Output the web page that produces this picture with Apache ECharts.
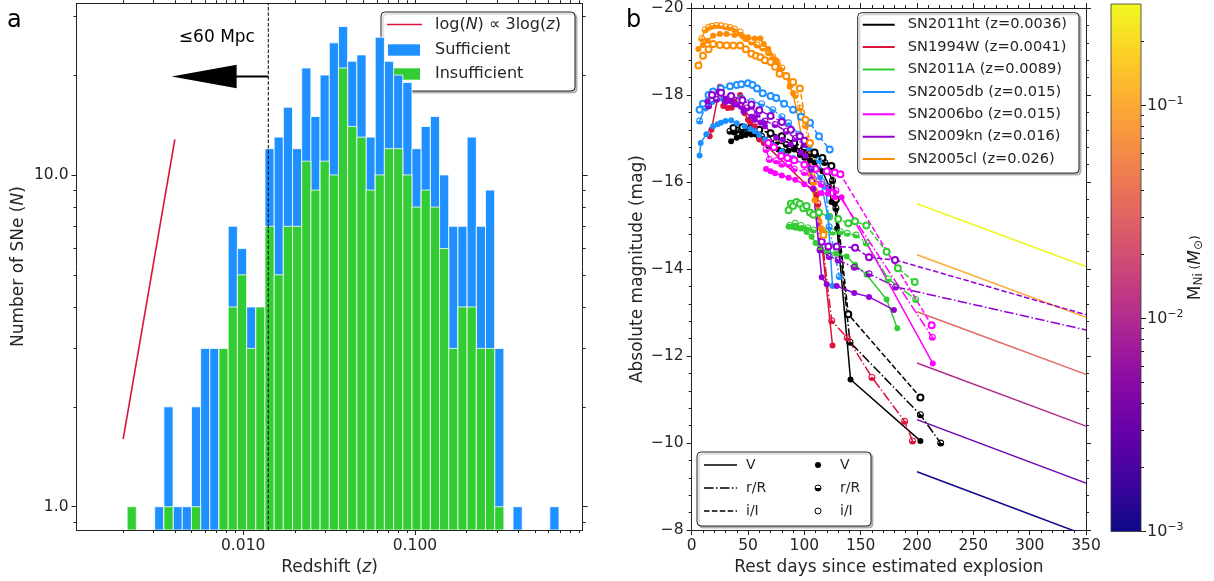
<!DOCTYPE html>
<html><head><meta charset="utf-8">
<script src="https://cdn.jsdelivr.net/npm/echarts@6/dist/echarts.min.js"></script>
<style>html,body{margin:0;padding:0;background:#fff}#c{width:1214px;height:581px}</style>
</head><body><div id="c"></div>
<script>
// ================= Panel a : redshift histogram =================
const binStartZ = 0.00211;      // left edge of first redshift bin
const binWidthDex = 0.0535;     // bin width in log10(z)
const countTotal = [1,0,0,1,2,1,1,2,3,3,3,7,6,4,4,12,13,16,12,21,15,20,25,28,22,23,13,26,22,20,19,12,14,15,10,7,7,13,7,9,3,0,1,0,0,0,1];
const countInsufficient = [1,0,0,0,1,0,0,1,0,0,3,4,5,3,4,7,5,7,7,11,9,11,10,21,14,13,9,10,12,12,10,8,9,8,6,3,4,4,3,3,1,0,0,0,0,0,0];
const slopeLineZ = [0.002, 0.004];
const slopeLineN = [1.6, 12.8];
const distLimitZ = 0.0140;        // 60 Mpc
const arrowTipZ = 0.00383, arrowN = 19.8;
const distLabelZ = 0.00703, distLabelN = 26.0;
const histZRange = [0.00107, 0.948];
const histNRange = [0.851, 32.9];
const histXTickLabels = ['0.010', '0.100'];
const histYTickLabels = ['1.0', '10.0'];

// ================= Panel b : light curves [day, mag] =================
const sn2011ht_V = [[35,-16.94],[40,-17.02],[44,-17.05],[48,-17.08],[53,-17.09],[60,-17.0],[68,-16.83],[72,-16.79],[77,-16.75],[81,-16.71],[86,-16.72],[91,-16.75],[96,-16.62],[100,-16.56],[105,-16.5],[109,-16.45],[116,-16.25],[122,-15.9],[124,-15.54],[127,-15.5],[129,-14.93],[141,-11.46],[203,-10.05]];
const sn2011ht_R = [[34,-17.17],[38,-17.15],[44,-17.18],[50,-17.15],[56,-17.12],[62,-17.05],[68,-16.97],[75,-16.92],[84,-16.86],[91,-16.82],[98,-16.72],[105,-16.65],[110,-16.62],[118,-16.45],[125,-16.03],[128,-15.4],[140.5,-12.32],[203,-10.65],[221,-10.0]];
const sn2011ht_I = [[37,-17.24],[45,-17.26],[52,-17.23],[60,-17.2],[70,-17.12],[80,-17.05],[91,-16.9],[100,-16.8],[109,-16.68],[116,-16.55],[124,-16.37],[128,-15.6],[139,-12.96],[203,-11.05]];

const sn1994w_V = [[16,-17.05],[17.5,-17.2],[25,-18.19],[28,-17.75],[32,-17.7],[35.5,-17.71],[38,-17.85],[43,-18.0],[47,-17.58],[50,-17.43],[52,-17.36],[56,-17.28],[60,-16.98],[64,-16.9],[111,-15.7],[125,-12.24]];
const sn1994w_R = [[112,-15.5],[124.3,-12.81],[138,-12.42],[160,-11.51],[189,-10.5],[196,-10.05]];

const sn2011a_V = [[86,-14.97],[89,-14.97],[92,-14.95],[96,-14.93],[99,-14.93],[102,-14.85],[106.5,-14.74],[110,-14.6],[114,-14.5],[120,-14.4],[128,-14.35],[137.6,-14.29],[145,-14.1],[155.3,-13.87],[173,-13.3],[182.5,-12.64]];
const sn2011a_R = [[87,-15.0],[92,-15.05],[97,-15.0],[103,-14.95],[108,-14.9],[117,-14.86],[125,-14.85],[132,-14.86],[138,-14.82],[146,-14.78],[155,-14.6],[174.5,-13.77],[198.8,-13.3]];
const sn2011a_I = [[86,-15.35],[88,-15.5],[90,-15.45],[93,-15.54],[96,-15.5],[99,-15.4],[102,-15.45],[105,-15.3],[108,-15.25],[113,-15.3],[122,-15.2],[130,-15.15],[139,-15.05],[145,-15.1],[155,-15.0],[173,-14.4],[183,-14.02],[198,-13.7]];

const sn2005db_V = [[7,-16.61],[8,-16.9],[13,-17.1],[19,-17.28],[23,-17.33],[26,-17.36],[30,-17.4],[35,-17.42],[40,-17.35],[47,-17.28],[52,-17.22],[56,-17.17],[60,-17.08],[65,-16.98],[72,-16.85],[80,-16.7],[90,-16.55],[100,-16.4],[108,-16.3],[114,-16.1],[121,-15.2],[125,-13.61]];
const sn2005db_R = [[7,-17.4],[12,-17.7],[18,-17.85],[26,-17.93],[34,-17.95],[44,-17.93],[53,-17.85],[62,-17.8],[72,-17.66],[80,-17.5],[86,-17.36],[95,-17.1],[104,-16.8],[113,-16.5],[119,-15.9],[122,-14.97],[131,-13.83]];
const sn2005db_I = [[7,-17.66],[10,-17.8],[15,-18.0],[19,-18.08],[26,-18.15],[34,-18.2],[40,-18.23],[44,-18.25],[50,-18.27],[54,-18.23],[58,-18.15],[63,-18.04],[70,-17.98],[75,-17.93],[82,-17.8],[90,-17.66],[97,-17.5],[105,-17.36],[113,-17.05],[122.5,-16.75]];

const sn2006bo_V = [[66,-16.3],[70,-16.25],[74,-16.2],[80,-16.15],[86,-16.1],[92,-16.05],[100,-15.95],[108,-15.85],[115,-15.75],[121,-15.73],[127,-15.65],[133,-15.65],[214,-11.83]];
const sn2006bo_R = [[66,-16.75],[69,-16.52],[75,-16.49],[80,-16.41],[86,-16.41],[91,-16.3],[100,-16.22],[108,-16.07],[115,-15.95],[122,-15.85],[128,-15.8],[213.6,-12.43]];
const sn2006bo_I = [[68,-16.9],[73,-16.8],[79.5,-16.6],[85,-16.55],[91,-16.5],[100,-16.4],[110,-16.3],[120,-16.25],[127,-16.22],[132,-16.18],[213,-12.71]];

const sn2009kn_V = [[14,-17.85],[19,-17.98],[24,-18.08],[30,-17.92],[35,-17.85],[40,-17.78],[46,-17.62],[53,-17.5],[56,-17.43],[61,-17.37],[65,-17.28],[75,-17.02],[81,-16.97],[88,-16.86],[97,-16.68],[101,-16.6],[108,-15.84],[115.4,-13.81],[119.8,-13.65],[128.7,-13.61],[144.3,-13.45],[157.4,-13.36],[179.5,-13.06]];
const sn2009kn_R = [[15,-17.75],[22,-17.9],[30,-17.85],[38,-17.8],[44,-17.74],[49,-17.7],[53,-17.74],[58,-17.55],[65,-17.4],[74,-17.32],[84,-17.17],[92,-17.0],[100,-16.86],[106,-16.3],[113.9,-14.44],[122.1,-14.29],[130,-14.21],[144.3,-14.04],[157.4,-13.89],[181,-13.59]];
const sn2009kn_I = [[18,-18.0],[26,-18.05],[35,-17.98],[45,-17.88],[53,-17.78],[60,-17.65],[70,-17.52],[80,-17.38],[88,-17.2],[96,-17.05],[100,-16.95],[106.5,-16.03],[115.4,-14.63],[121.3,-14.52],[128.7,-14.52],[145,-14.49],[157.4,-14.27],[180.5,-14.21]];
const sn2009kn_Rtail = [[181,-13.59],[350,-12.6]];
const sn2009kn_Itail = [[180.5,-14.21],[350,-12.95]];

const sn2005cl_V = [[6,-19.06],[10,-19.15],[14,-19.25],[19,-19.36],[25,-19.4],[31,-19.4],[38,-19.38],[45,-19.35],[50,-19.33],[56,-19.3],[61,-19.3],[64,-19.17],[68,-19.06],[75,-18.8],[78,-18.57],[84,-18.45],[87,-18.19],[90,-18.04],[109,-15.58],[115,-14.93]];
const sn2005cl_R = [[9,-19.3],[12,-19.5],[15,-19.56],[18,-19.58],[22,-19.6],[26,-19.59],[30,-19.57],[34,-19.55],[38,-19.52],[43,-19.45],[48,-19.3],[53,-19.22],[58,-19.15],[63,-19.08],[68,-18.98],[72,-18.88],[76,-18.75],[80,-18.62],[84,-18.45],[88,-18.25],[92,-18.0],[96,-17.7],[101,-17.3],[108,-16.0],[116,-14.9]];
const sn2005cl_I = [[6,-18.68],[10,-18.9],[15,-19.05],[19,-19.17],[25,-19.15],[31,-19.14],[37,-19.14],[43,-19.14],[48,-19.05],[53,-18.95],[57,-18.9],[61,-18.87],[65,-18.8],[70,-18.76],[74,-18.65],[78,-18.49],[84,-18.43],[90,-18.3],[96,-18.15],[101,-17.43],[105,-16.9],[117,-14.78]];

// Ni-56 tail models
const niMass = [0.001, 0.00316, 0.01, 0.0316, 0.1, 0.316];
const tailDays = [200, 350];
const tailMagStart = [-9.34, -10.54, -11.84, -13.02, -14.33, -15.5];
const tailMagEnd = [-7.88, -9.08, -10.39, -11.58, -12.89, -14.06];
const colorbarRange = [0.001, 0.3];

const snNames = ['SN2011ht (z=0.0036)','SN1994W (z=0.0041)','SN2011A (z=0.0089)','SN2005db (z=0.015)','SN2006bo (z=0.015)','SN2009kn (z=0.016)','SN2005cl (z=0.026)'];
const snColors = ['#000000','#dc143c','#32cd32','#1e90ff','#ff00ff','#9400d3','#ff8c00'];
const bandLabels = ['V','r/R','i/I'];

// ================= helpers =================
const FONT = 'DejaVu Sans';
const TXT = '#262626';
const lg = Math.log10;
const plasmaStops = ['#0d0887','#41049d','#6a00a8','#8f0da4','#b12a90','#cc4778','#e16462','#f2844b','#fca636','#fcce25','#f0f921'];
function hexRgb(h){return [parseInt(h.slice(1,3),16),parseInt(h.slice(3,5),16),parseInt(h.slice(5,7),16)];}
function plasma(t){
  t = Math.max(0, Math.min(1, t)); const f = t*10; const i = Math.min(9, Math.floor(f)); const u = f - i;
  const a = hexRgb(plasmaStops[i]), b = hexRgb(plasmaStops[i+1]);
  return 'rgb(' + a.map((v,k)=>Math.round(v+(b[k]-v)*u)).join(',') + ')';
}
const cbLo = lg(colorbarRange[0]), cbHi = lg(colorbarRange[1]);
function massColor(m){ return plasma((lg(m)-cbLo)/(cbHi-cbLo)); }

const HALF = 'path://M10,0A10,10 0 1,1 10,20A10,10 0 1,1 10,0Z M10,3A7,7 0 1,0 10,17A7,7 0 1,0 10,3Z M3,10A7,7 0 0,0 17,10Z';
const DASHED = [5.5, 2.4];
const DASHDOT = [9.6, 2.4, 1.5, 2.4];

function minorLogs(lo, hi){
  const out = [];
  for (let e = Math.floor(lo)-1; e <= Math.ceil(hi); e++)
    for (let m = 2; m <= 9; m++){ const v = e + lg(m); if (v > lo + 1e-6 && v < hi - 1e-6) out.push(v); }
  return out;
}
function majorLogs(lo, hi){ const out=[]; for (let e=Math.ceil(lo); e<=Math.floor(hi); e++) out.push(e); return out; }

const hx = [lg(histZRange[0]), lg(histZRange[1])];
const hy = [lg(histNRange[0]), lg(histNRange[1])];

// ---------------- axes ----------------
const axLine = {show:true, onZero:false, lineStyle:{color:'#222', width:1}};
const noLine = {show:false, onZero:false};
function logAxis(base, extra){
  return Object.assign({type:'value', min: base[0], max: base[1], splitLine:{show:false}}, extra);
}
const labelFont = {fontFamily: FONT, fontSize: 15.5, color: TXT};
const nameFont = {fontFamily: FONT, fontSize: 17, color: TXT, rich:{i:{fontStyle:'italic', fontFamily: FONT, fontSize:17, color:TXT}}};

const xAxes = [
  // panel a bottom major
  logAxis(hx, {gridIndex:0, position:'bottom', axisLine: axLine,
    axisTick:{show:true, length:5, customValues: majorLogs(hx[0],hx[1]), lineStyle:{color:'#222'}},
    axisLabel:Object.assign({show:true, margin:8, customValues: majorLogs(hx[0],hx[1]), formatter: v => histXTickLabels[Math.round(v)+2]}, labelFont),
    name:'Redshift ({i|z})', nameLocation:'middle', nameGap:27, nameTextStyle: nameFont}),
  logAxis(hx, {gridIndex:0, position:'bottom', axisLine: noLine, axisLabel:{show:false},
    axisTick:{show:true, length:3, customValues: minorLogs(hx[0],hx[1]), lineStyle:{color:'#222'}}}),
  logAxis(hx, {gridIndex:0, position:'top', axisLine: axLine, axisLabel:{show:false},
    axisTick:{show:true, length:5, customValues: majorLogs(hx[0],hx[1]), lineStyle:{color:'#222'}}}),
  logAxis(hx, {gridIndex:0, position:'top', axisLine: noLine, axisLabel:{show:false},
    axisTick:{show:true, length:3, customValues: minorLogs(hx[0],hx[1]), lineStyle:{color:'#222'}}}),
  // panel b
  {type:'value', gridIndex:1, position:'bottom', min:0, max:350, interval:50, splitLine:{show:false}, axisLine: axLine,
    axisTick:{show:true, length:5, lineStyle:{color:'#222'}}, minorTick:{show:true, splitNumber:5, length:3, lineStyle:{color:'#222'}},
    axisLabel:Object.assign({margin:8}, labelFont),
    name:'Rest days since estimated explosion', nameLocation:'middle', nameGap:25, nameTextStyle:nameFont},
  {type:'value', gridIndex:1, position:'top', min:0, max:350, interval:50, splitLine:{show:false}, axisLine: axLine,
    axisTick:{show:true, length:5, lineStyle:{color:'#222'}}, minorTick:{show:true, splitNumber:5, length:3, lineStyle:{color:'#222'}},
    axisLabel:{show:false}},
  // colorbar (hidden x)
  {type:'value', gridIndex:2, min:0, max:1, show:false}
];

const yAxes = [
  logAxis(hy, {gridIndex:0, position:'left', axisLine: axLine,
    axisTick:{show:true, length:5, customValues: majorLogs(hy[0],hy[1]), lineStyle:{color:'#222'}},
    axisLabel:Object.assign({show:true, margin:8, customValues: majorLogs(hy[0],hy[1]), formatter: v => histYTickLabels[Math.round(v)]}, labelFont),
    name:'Number of SNe ({i|N})', nameLocation:'middle', nameRotate:90, nameGap:49, nameTextStyle:nameFont}),
  logAxis(hy, {gridIndex:0, position:'left', axisLine: noLine, axisLabel:{show:false},
    axisTick:{show:true, length:3, customValues: minorLogs(hy[0],hy[1]), lineStyle:{color:'#222'}}}),
  logAxis(hy, {gridIndex:0, position:'right', axisLine: axLine, axisLabel:{show:false},
    axisTick:{show:true, length:5, customValues: majorLogs(hy[0],hy[1]), lineStyle:{color:'#222'}}}),
  logAxis(hy, {gridIndex:0, position:'right', axisLine: noLine, axisLabel:{show:false},
    axisTick:{show:true, length:3, customValues: minorLogs(hy[0],hy[1]), lineStyle:{color:'#222'}}}),
  {type:'value', gridIndex:1, position:'left', min:-20, max:-8, interval:2, inverse:true, splitLine:{show:false}, axisLine: axLine,
    axisTick:{show:true, length:5, lineStyle:{color:'#222'}}, minorTick:{show:true, splitNumber:5, length:3, lineStyle:{color:'#222'}},
    axisLabel:Object.assign({margin:8, formatter: v => String(v).replace('-', '\u2212')}, labelFont),
    name:'Absolute magnitude (mag)', nameLocation:'middle', nameRotate:90, nameGap:46, nameTextStyle:nameFont},
  {type:'value', gridIndex:1, position:'right', min:-20, max:-8, interval:2, inverse:true, splitLine:{show:false}, axisLine: axLine,
    axisTick:{show:true, length:5, lineStyle:{color:'#222'}}, minorTick:{show:true, splitNumber:5, length:3, lineStyle:{color:'#222'}},
    axisLabel:{show:false}},
  // colorbar axis (log10 M_Ni)
  logAxis([cbLo, cbHi], {gridIndex:2, position:'right', axisLine: noLine,
    axisTick:{show:true, length:5, customValues: majorLogs(cbLo,cbHi), lineStyle:{color:'#222'}},
    axisLabel:{show:true, margin:6, customValues: majorLogs(cbLo,cbHi), fontFamily:FONT, color:TXT,
      formatter: v => '{b|10}{s|\u2212' + Math.round(-v) + '}',
      rich:{b:{fontFamily:FONT, fontSize:16, color:TXT}, s:{fontFamily:FONT, fontSize:11, color:TXT, verticalAlign:'top', padding:[0,0,8,0]}}},
    name:'{m|M}{sub|Ni} ({mi|M}{sub|\u2299})', nameLocation:'middle', nameRotate:90, nameGap:34,
    nameTextStyle:{fontFamily:FONT, color:TXT, rich:{
      m:{fontFamily:FONT, fontSize:17, color:TXT}, mi:{fontFamily:FONT, fontSize:17, fontStyle:'italic', color:TXT},
      sub:{fontFamily:FONT, fontSize:12, color:TXT, padding:[6,0,0,0]}}}}),
  logAxis([cbLo, cbHi], {gridIndex:2, position:'right', axisLine: noLine, axisLabel:{show:false},
    axisTick:{show:true, length:3, customValues: minorLogs(cbLo,cbHi), lineStyle:{color:'#222'}}})
];

// ---------------- series ----------------
const series = [];
function binData(counts){
  const d = [];
  counts.forEach((c,k) => { if (c > 0){ const lo = lg(binStartZ) + k*binWidthDex; d.push([lo, lo + binWidthDex, lg(c)]); } });
  return d;
}
function barRender(params, api){
  const p0 = api.coord([api.value(0), hy[0]]);
  const p1 = api.coord([api.value(1), api.value(2)]);
  return {type:'rect', shape:{x:p0[0], y:p1[1], width:p1[0]-p0[0], height:p0[1]-p1[1]},
    style:{fill: api.visual('color'), stroke:'rgba(255,255,255,0.8)', lineWidth:1}};
}
series.push({type:'custom', name:'Sufficient', xAxisIndex:0, yAxisIndex:0, data: binData(countTotal), renderItem: barRender,
  itemStyle:{color:'#1e90ff'}, encode:{x:[0,1], y:2}, clip:true, silent:true});
series.push({type:'custom', name:'Insufficient', xAxisIndex:0, yAxisIndex:0, data: binData(countInsufficient), renderItem: barRender,
  itemStyle:{color:'#32cd32'}, encode:{x:[0,1], y:2}, clip:true, silent:true});
series.push({type:'line', name:'slope', xAxisIndex:0, yAxisIndex:0, data: slopeLineZ.map((z,i)=>[lg(z), lg(slopeLineN[i])]),
  showSymbol:false, symbol:'none', lineStyle:{color:'#dc143c', width:1.6}, itemStyle:{color:'#dc143c'}, silent:true});
series.push({type:'line', name:'distlim', xAxisIndex:0, yAxisIndex:0, data: [[lg(distLimitZ), hy[0]], [lg(distLimitZ), hy[1]]],
  symbol:'none', lineStyle:{color:'#000', width:1, type:[3.5,1.8]}, silent:true, z:3});
series.push({type:'custom', name:'arrow', xAxisIndex:0, yAxisIndex:0, silent:true, z:4,
  data: [[lg(distLimitZ), lg(arrowTipZ), lg(arrowN), lg(distLabelZ), lg(distLabelN)]],
  encode:{x:[0,1], y:2},
  renderItem: (params, api) => {
    const s = api.coord([api.value(0), api.value(2)]);
    const t = api.coord([api.value(1), api.value(2)]);
    const lab = api.coord([api.value(3), api.value(4)]);
    const headLen = 65, headHalf = 11.7;
    return {type:'group', children:[
      {type:'line', shape:{x1:s[0], y1:s[1], x2:t[0]+headLen-2, y2:t[1]}, style:{stroke:'#000', lineWidth:2.2}},
      {type:'polygon', shape:{points:[[t[0],t[1]],[t[0]+headLen, t[1]-headHalf],[t[0]+headLen, t[1]+headHalf]]}, style:{fill:'#000'}},
      {type:'text', x: lab[0], y: lab[1], style:{text:'\u226460 Mpc', fontFamily:FONT, fontSize:17, fill:'#000', align:'center', verticalAlign:'middle'}}
    ]};
  }});

// colorbar gradient
series.push({type:'custom', name:'colorbar', xAxisIndex:6, yAxisIndex:6, silent:true, data:[[0,1,cbLo,cbHi]],
  renderItem: (params, api) => {
    const a = api.coord([api.value(0), api.value(3)]);
    const b = api.coord([api.value(1), api.value(2)]);
    return {type:'rect', shape:{x:a[0], y:a[1], width:b[0]-a[0], height:b[1]-a[1]},
      style:{fill:{type:'linear', x:0, y:1, x2:0, y2:0, colorStops: plasmaStops.map((c,i)=>({offset:i/10, color:c}))}, stroke:'#333', lineWidth:0.8}};
  }});

// Ni tail models
niMass.forEach((m,i) => {
  series.push({type:'line', name:'tail'+i, xAxisIndex:4, yAxisIndex:4, symbol:'none', silent:true,
    data: [[tailDays[0], tailMagStart[i]], [tailDays[1], tailMagEnd[i]]],
    lineStyle:{color: massColor(m), width:1.5}, clip:true});
});

// light curves
const snBands = [
  [sn2011ht_V, sn2011ht_R, sn2011ht_I],
  [sn1994w_V, sn1994w_R, null],
  [sn2011a_V, sn2011a_R, sn2011a_I],
  [sn2005db_V, sn2005db_R, sn2005db_I],
  [sn2006bo_V, sn2006bo_R, sn2006bo_I],
  [sn2009kn_V, sn2009kn_R, sn2009kn_I],
  [sn2005cl_V, sn2005cl_R, sn2005cl_I]
];
const bandStyle = [
  {symbol:'circle', dash:'solid', size:6},
  {symbol:HALF, dash:DASHDOT, size:7},
  {symbol:'emptyCircle', dash:DASHED, size:6}
];
snBands.forEach((bands, s) => {
  bands.forEach((pts, b) => {
    if (!pts) return;
    series.push({type:'line', name: b===0 ? snNames[s] : snNames[s]+' '+bandLabels[b], xAxisIndex:4, yAxisIndex:4,
      data: pts, symbol: bandStyle[b].symbol, symbolSize: bandStyle[b].size, showSymbol:true, silent:true, clip:true,
      lineStyle:{color:snColors[s], width:1.5, type:bandStyle[b].dash},
      itemStyle:{color:snColors[s], borderColor:snColors[s], borderWidth: b===2 ? 1.2 : 0}});
  });
  if (s === 5){
    series.push({type:'line', name:'kn r tail', xAxisIndex:4, yAxisIndex:4, data: sn2009kn_Rtail, symbol:'none', silent:true, clip:true,
      lineStyle:{color:snColors[5], width:1.5, type:DASHDOT}});
    series.push({type:'line', name:'kn i tail', xAxisIndex:4, yAxisIndex:4, data: sn2009kn_Itail, symbol:'none', silent:true, clip:true,
      lineStyle:{color:snColors[5], width:1.5, type:DASHED}});
  }
});

// ---------------- legends & annotations ----------------
const legFont = {fontFamily:FONT, fontSize:16, fill:TXT};
const boxStyle = {fill:'#fff', stroke:'#222', lineWidth:1, shadowColor:'rgba(0,0,0,0.25)', shadowOffsetX:2, shadowOffsetY:2, shadowBlur:1};
const graphic = [
  {type:'text', x:7, y:9, style:{text:'a', fontFamily:FONT, fontSize:24, fill:'#000'}, z:200},
  {type:'text', x:626, y:9, style:{text:'b', fontFamily:FONT, fontSize:24, fill:'#000'}, z:200},
  // panel a legend
  {type:'group', z:150, children:[
    {type:'rect', shape:{x:381, y:12, width:194, height:79, r:4}, style:boxStyle},
    {type:'line', shape:{x1:387, y1:24.5, x2:422, y2:24.5}, style:{stroke:'#dc143c', lineWidth:1.6}},
    {type:'rect', shape:{x:388, y:44.3, width:32, height:11.4}, style:{fill:'#1e90ff'}},
    {type:'rect', shape:{x:388, y:68.3, width:32, height:11.4}, style:{fill:'#32cd32'}},
    {type:'text', x:435, y:25, style:Object.assign({text:'log({i|N}) \u221d 3log({i|z})', verticalAlign:'middle', rich:{i:{fontStyle:'italic', fontFamily:FONT, fontSize:16, fill:TXT}}}, legFont)},
    {type:'text', x:435, y:50, style:Object.assign({text:'Sufficient', verticalAlign:'middle'}, legFont)},
    {type:'text', x:435, y:74, style:Object.assign({text:'Insufficient', verticalAlign:'middle'}, legFont)}
  ]},
  // panel b band legend
  {type:'group', z:150, children:[
    {type:'rect', shape:{x:697, y:452, width:174, height:74, r:4}, style:boxStyle},
    {type:'line', shape:{x1:704, y1:465, x2:737, y2:465}, style:{stroke:'#000', lineWidth:1.5}},
    {type:'line', shape:{x1:704, y1:488, x2:737, y2:488}, style:{stroke:'#000', lineWidth:1.5, lineDash:DASHDOT}},
    {type:'line', shape:{x1:704, y1:511, x2:737, y2:511}, style:{stroke:'#000', lineWidth:1.5, lineDash:DASHED}},
    {type:'text', x:746, y:465, style:{text:'V', fontFamily:FONT, fontSize:14, fill:TXT, verticalAlign:'middle'}},
    {type:'text', x:746, y:488, style:{text:'r/R', fontFamily:FONT, fontSize:14, fill:TXT, verticalAlign:'middle'}},
    {type:'text', x:746, y:511, style:{text:'i/I', fontFamily:FONT, fontSize:14, fill:TXT, verticalAlign:'middle'}},
    {type:'circle', shape:{cx:818, cy:465, r:3}, style:{fill:'#000'}},
    {type:'circle', shape:{cx:818, cy:488, r:3}, style:{fill:'none', stroke:'#000', lineWidth:1}},
    {type:'sector', shape:{cx:818, cy:488, r:3, startAngle:0, endAngle:Math.PI}, style:{fill:'#000'}},
    {type:'circle', shape:{cx:818, cy:511, r:3}, style:{fill:'#fff', stroke:'#000', lineWidth:1}},
    {type:'text', x:840, y:465, style:{text:'V', fontFamily:FONT, fontSize:14, fill:TXT, verticalAlign:'middle'}},
    {type:'text', x:840, y:488, style:{text:'r/R', fontFamily:FONT, fontSize:14, fill:TXT, verticalAlign:'middle'}},
    {type:'text', x:840, y:511, style:{text:'i/I', fontFamily:FONT, fontSize:14, fill:TXT, verticalAlign:'middle'}}
  ]}
];

const option = {
  animation:false,
  backgroundColor:'#fff',
  grid:[
    {left:76.5, top:3.3, width:506.2, height:526.7, containLabel:false},
    {left:691.7, top:3.7, width:394.3, height:528, containLabel:false},
    {left:1111, top:4, width:30, height:527.5, containLabel:false}
  ],
  xAxis: xAxes,
  yAxis: yAxes,
  legend:[{
    show:true, orient:'vertical', left:857.7, top:12.7, padding:[4,12,6,5], itemGap:6.4, itemWidth:32, itemHeight:2,
    icon:'rect', selectedMode:false, data: snNames,
    textStyle:{fontFamily:FONT, fontSize:14.6, color:TXT, lineHeight:16, padding:[0,0,0,8]},
    backgroundColor:'#fff', borderColor:'#222', borderWidth:1, borderRadius:4,
    shadowColor:'rgba(0,0,0,0.25)', shadowOffsetX:2, shadowOffsetY:2, shadowBlur:1, z:150
  }],
  graphic: graphic,
  series: series
};
const chart = echarts.init(document.getElementById('c'), null, {renderer:'canvas'});
chart.setOption(option);
</script></body></html>
